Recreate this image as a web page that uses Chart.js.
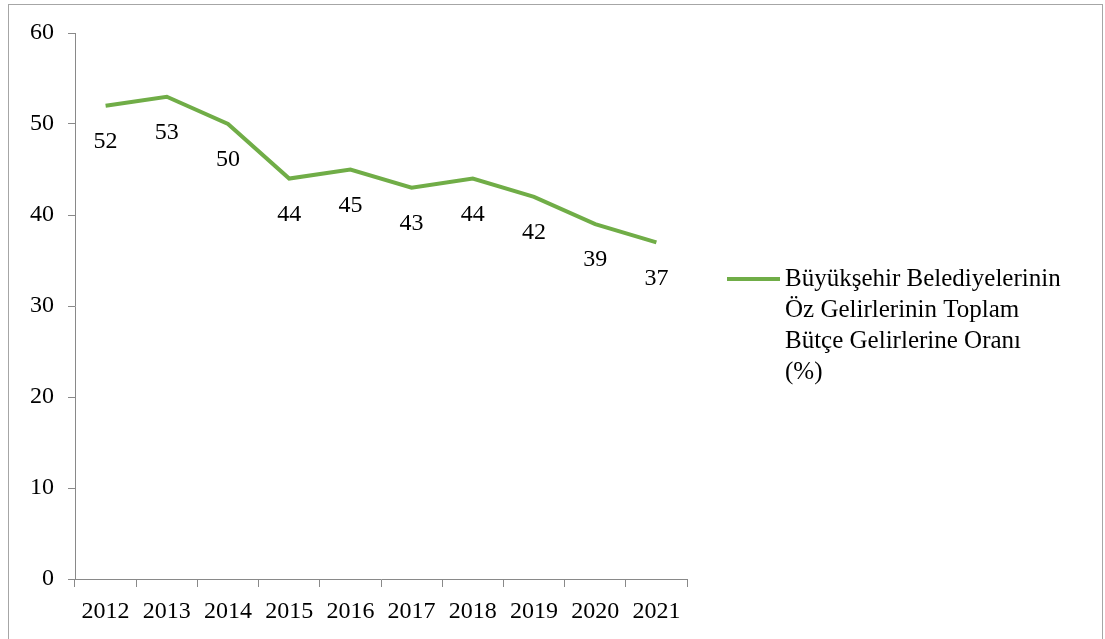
<!DOCTYPE html>
<html>
<head>
<meta charset="utf-8">
<script src="https://cdn.jsdelivr.net/npm/chart.js@4.4.1/dist/chart.umd.min.js"></script>
<style>
  body { margin: 0; background: #fff; overflow: hidden; }
  #wrap { position: relative; width: 1105px; height: 639px; }
  #frame { position: absolute; left: 8px; top: 4px; width: 1095px; height: 700px; border: 1px solid #a6a6a6; box-sizing: border-box; }
  canvas { position: absolute; left: 0; top: 0; }
</style>
</head>
<body>
<div id="wrap">
  <div id="frame"></div>
  <canvas id="lineChart" width="1105" height="639"></canvas>
</div>
<script>
const years = ['2012', '2013', '2014', '2015', '2016', '2017', '2018', '2019', '2020', '2021'];
const ratios = [52, 53, 50, 44, 45, 43, 44, 42, 39, 37];
const legendLines = ['Büyükşehir Belediyelerinin', 'Öz Gelirlerinin Toplam', 'Bütçe Gelirlerine Oranı', '(%)'];

const FONT = "'Liberation Serif', 'Times New Roman', serif";
const GREEN = '#70ad47';
const AXIS = '#898989';

// values under each point + legend on the right
const labelsPlugin = {
  id: 'labelsPlugin',
  afterDatasetsDraw(chart) {
    const ctx = chart.ctx;
    const meta = chart.getDatasetMeta(0);
    ctx.save();
    ctx.font = '24px ' + FONT;
    ctx.fillStyle = '#000';
    ctx.textAlign = 'center';
    ctx.textBaseline = 'middle';
    meta.data.forEach((pt, i) => {
      ctx.fillText(String(ratios[i]), pt.x, pt.y + 36);
    });

    // legend
    const lx = chart.chartArea.right + 40;
    const ly = 279;
    ctx.strokeStyle = GREEN;
    ctx.lineWidth = 4;
    ctx.beginPath();
    ctx.moveTo(lx, ly);
    ctx.lineTo(lx + 53, ly);
    ctx.stroke();
    ctx.font = '25px ' + FONT;
    ctx.textAlign = 'left';
    legendLines.forEach((t, i) => {
      ctx.fillText(t, lx + 58, ly + i * 31);
    });
    ctx.restore();
  }
};

const ctx = document.getElementById('lineChart').getContext('2d');
new Chart(ctx, {
  type: 'line',
  data: {
    labels: years,
    datasets: [{
      label: legendLines.join(' '),
      data: ratios,
      borderColor: GREEN,
      borderWidth: 4,
      pointRadius: 0,
      tension: 0,
      fill: false
    }]
  },
  options: {
    responsive: false,
    animation: false,
    layout: { padding: { left: 0, top: 33, right: 418, bottom: 0 } },
    plugins: {
      legend: { display: false },
      tooltip: { enabled: false }
    },
    scales: {
      x: {
        offset: true,
        grid: {
          offset: true,
          drawOnChartArea: false,
          drawTicks: true,
          tickLength: 8,
          color: AXIS
        },
        border: { color: AXIS, width: 1 },
        ticks: {
          color: '#000',
          font: { family: FONT, size: 24 },
          padding: 10,
          maxRotation: 0,
          autoSkip: false
        },
        afterFit(scale) { scale.height = 60; }
      },
      y: {
        min: 0,
        max: 60,
        grid: {
          drawOnChartArea: false,
          drawTicks: true,
          tickLength: 7,
          color: AXIS
        },
        border: { color: AXIS, width: 1 },
        ticks: {
          stepSize: 10,
          color: '#000',
          font: { family: FONT, size: 24 },
          padding: 14
        },
        afterFit(scale) { scale.width = 75; }
      }
    }
  },
  plugins: [labelsPlugin]
});
</script>
</body>
</html>
